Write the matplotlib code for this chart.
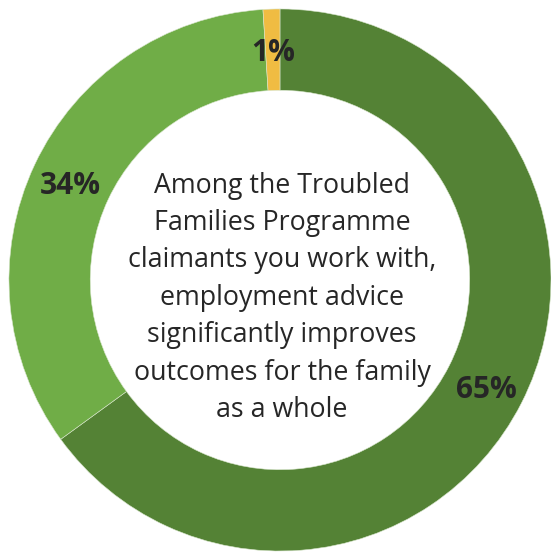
import matplotlib.pyplot as plt
from matplotlib.transforms import offset_copy

# survey answer shares (clockwise from 12 o'clock)
labels = ['Agree', 'Neither', 'Disagree']
shares = [65, 34, 1]
colours = ['#548235', '#70AD47', '#F0BC42']

question = ('Among the Troubled\nFamilies Programme\nclaimants you work with,\n'
            'employment advice\nsignificantly improves\noutcomes for the family\nas a whole')

plt.rcParams['font.family'] = ['Open Sans', 'DejaVu Sans']

fig = plt.figure(figsize=(5.51, 5.57), dpi=100)
ax = fig.add_axes([0, 0, 1, 1])

wedges, texts, pcts = ax.pie(shares, colors=colours, startangle=90, counterclock=False,
                             radius=1, wedgeprops=dict(width=0.30, edgecolor='#d8e6cc', linewidth=0.4),
                             autopct='%1.0f%%', pctdistance=0.855)
# nudge labels down a touch, like the original
shift = offset_copy(ax.transData, fig=fig, x=0, y=-5, units='dots')
for t in pcts:
    t.set_fontsize(21.5)
    t.set_fontweight('bold')
    t.set_color('#262626')
    t.set_transform(shift)

# question text in the hole
ax.text(0.008, -0.066, question, ha='center', va='center', fontsize=19.3,
        color='#262626', linespacing=1.45)

ax.set_xlim(-1.033, 1.0)
ax.set_ylim(-1.022, 1.033)
ax.set_aspect('equal')
ax.axis('off')

fig.savefig('out.png', dpi=100)
